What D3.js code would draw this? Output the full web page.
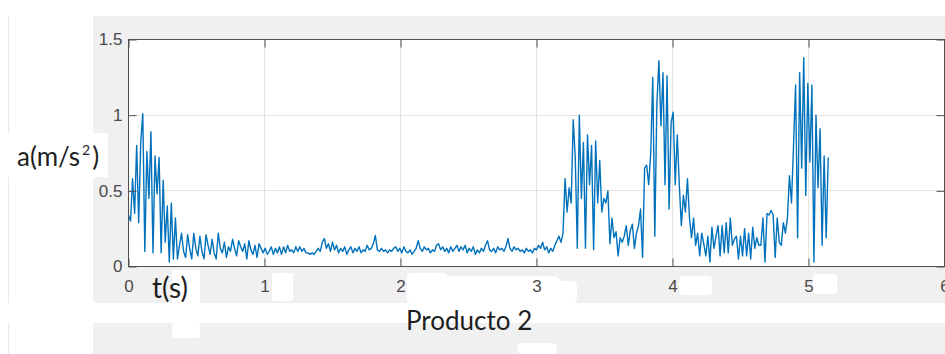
<!DOCTYPE html>
<html>
<head>
<meta charset="utf-8">
<script src="https://cdn.jsdelivr.net/npm/d3@7"></script>
<style>
  html, body { margin: 0; padding: 0; background: #ffffff; }
  svg { display: block; }
</style>
</head>
<body>
<svg id="chart" width="945" height="354"></svg>
<script>
// Acceleration record, sampled every 15 ms (m/s^2)
const sampleStep = 0.015;
const accel = [
  0.34,0.30,0.58,0.35,0.80,0.29,0.82,1.01,0.10,0.76,0.45,0.89,0.09,0.73,0.48,0.72,0.09,0.57,0.16,0.40,0.03,0.42,0.05,0.32,0.05,
  0.14,0.22,0.10,0.06,0.21,0.12,0.05,0.22,0.12,0.07,0.20,0.10,0.05,0.21,0.14,0.08,0.18,0.09,0.05,0.22,0.12,0.09,0.16,0.06,0.13,
  0.10,0.18,0.12,0.07,0.17,0.13,0.10,0.15,0.05,0.17,0.11,0.08,0.14,0.06,0.15,0.12,0.09,
  0.12,0.08,0.10,0.13,0.08,0.12,0.09,0.13,0.08,0.13,0.09,0.14,0.10,0.11,0.09,0.13,0.10,
  0.13,0.10,0.12,0.09,0.09,0.08,0.09,0.08,0.10,0.12,0.10,0.16,0.185,0.12,0.15,0.10,0.16,0.11,0.14,0.09,0.12,0.10,0.13,0.08,
  0.11,0.13,0.09,0.12,0.10,0.13,0.09,0.11,0.10,0.14,0.11,0.12,0.15,
  0.205,0.11,0.10,0.12,0.10,0.11,0.09,0.11,0.10,0.12,0.13,0.10,0.12,0.09,0.13,0.10,0.09,0.11,0.08,0.10,0.12,0.17,0.12,0.10,
  0.13,0.11,0.12,0.09,0.11,0.10,0.14,0.15,0.11,0.13,0.10,0.12,0.09,0.13,0.10,0.12,
  0.14,0.10,0.13,0.11,0.14,0.09,0.12,0.10,0.13,0.08,0.11,0.09,0.12,0.10,0.14,0.17,0.11,0.10,0.12,0.09,0.13,0.11,0.12,0.10,
  0.13,0.185,0.12,0.10,0.13,0.11,0.12,0.10,0.11,0.09,0.12,0.10,0.11,0.09,0.12,0.11,0.14,0.12,0.16,0.11,0.13,0.09,0.12,0.10,
  0.14,0.17,
  0.20,0.16,0.22,0.58,0.36,0.52,0.42,0.97,0.72,0.12,1.00,0.45,0.82,0.12,0.87,0.54,0.80,0.11,0.83,0.42,0.70,0.36,0.45,0.42,
  0.50,0.15,0.32,0.19,0.23,0.07,0.19,0.16,0.20,0.27,0.14,0.24,0.28,0.12,0.22,0.27,0.38,0.06,0.65,0.67,0.54,0.75,1.25,0.20,
  1.07,1.36,0.93,1.28,0.54,1.26,0.38,0.95,1.02,0.54,0.87,0.54,0.27,0.47,0.36,0.58,0.32,0.19,0.32,0.14,0.22,0.07,
  0.22,0.15,0.07,0.20,0.03,0.26,0.12,0.20,0.27,0.07,0.27,0.09,0.29,0.09,0.32,0.14,0.18,0.20,0.05,0.20,0.07,0.25,0.07,0.22,
  0.05,0.26,0.12,0.19,0.14,0.14,0.32,0.03,0.35,0.34,0.37,0.34,0.06,0.32,0.16,0.14,0.29,0.22,0.32,0.60,0.42,0.80,1.20,0.19,
  1.28,0.65,1.38,0.47,1.21,0.69,1.20,0.03,1.00,0.52,0.91,0.14,0.73,0.19,0.72
];

const xTicks = [0, 1, 2, 3, 4, 5, 6];
const yTicks = [0, 0.5, 1, 1.5];
const xDomain = [0, 6];
const yDomain = [0, 1.5];

const yTitle = "a(m/s";
const yTitleSup = "2";
const yTitleEnd = ")";
const xTitle = "t(s)";
const caption = "Producto 2";

const svg = d3.select("#chart");
const W = 945, H = 354;
const plot = { left: 128.5, right: 944.5, top: 39.5, bottom: 266.5 };

// figure window background
svg.append("rect").attr("x", 93).attr("y", 16).attr("width", W - 93).attr("height", 287).attr("fill", "#f0f0f0");
svg.append("rect").attr("x", 93).attr("y", 323).attr("width", W - 93).attr("height", H - 323).attr("fill", "#f0f0f0");
svg.append("line").attr("x1", 8.5).attr("x2", 8.5).attr("y1", 16).attr("y2", 303).attr("stroke", "#e8e8e8");
svg.append("line").attr("x1", 8.5).attr("x2", 8.5).attr("y1", 323).attr("y2", H).attr("stroke", "#e8e8e8");

// white cut-outs behind the pasted labels
const patches = [
  [0, 133, 108, 44, 0],
  [172, 270, 28, 33, 0], [172, 323, 28, 15, 3],
  [272, 273, 21, 28, 3],
  [407, 273, 40, 30, 4], [430, 276, 130, 27, 6], [545, 281, 32, 22, 5],
  [517, 343, 40, 11, 5],
  [679, 276, 33, 19, 4],
  [813, 274, 24, 20, 4]
];
svg.append("g").selectAll("rect").data(patches).join("rect")
  .attr("x", d => d[0]).attr("y", d => d[1]).attr("width", d => d[2]).attr("height", d => d[3])
  .attr("rx", d => d[4]).attr("fill", "#ffffff");

const x = d3.scaleLinear().domain(xDomain).range([plot.left, plot.right]);
const y = d3.scaleLinear().domain(yDomain).range([plot.bottom, plot.top]);

// axes area
svg.append("rect").attr("x", plot.left).attr("y", plot.top)
  .attr("width", plot.right - plot.left).attr("height", plot.bottom - plot.top).attr("fill", "#ffffff");

// grid
const grid = svg.append("g").attr("stroke", "#e3e3e3").attr("stroke-width", 1);
grid.selectAll(".gx").data(xTicks).join("line")
  .attr("x1", d => Math.round(x(d) - 0.5) + 0.5).attr("x2", d => Math.round(x(d) - 0.5) + 0.5)
  .attr("y1", plot.top).attr("y2", plot.bottom);
grid.selectAll(".gy").data(yTicks).join("line")
  .attr("y1", d => Math.round(y(d) - 0.5) + 0.5).attr("y2", d => Math.round(y(d) - 0.5) + 0.5)
  .attr("x1", plot.left).attr("x2", plot.right);

// signal
const line = d3.line().x((d, i) => x(i * sampleStep)).y(d => y(d));
svg.append("path").datum(accel)
  .attr("d", line)
  .attr("fill", "none")
  .attr("stroke", "#0072bd")
  .attr("stroke-width", 1.4)
  .attr("stroke-linejoin", "round");

// axes with inward ticks
const axisColor = "#4f4f4f";
function styleAxis(g) {
  g.select(".domain").remove();
  g.selectAll(".tick line").attr("stroke", axisColor);
  g.selectAll(".tick text")
    .attr("fill", "#4a4a4a")
    .attr("font-family", "'Liberation Sans', Arial, sans-serif")
    .attr("font-size", 17);
}
svg.append("g").attr("transform", `translate(0,${plot.bottom})`)
  .call(d3.axisBottom(x).tickValues(xTicks).tickSize(-8).tickPadding(13).tickFormat(d => String(d)))
  .call(styleAxis);
svg.append("g").attr("transform", `translate(${plot.left},0)`)
  .call(d3.axisLeft(y).tickValues(yTicks).tickSize(-8).tickPadding(6).tickFormat(d => String(d)))
  .call(styleAxis);
svg.append("g").attr("transform", `translate(0,${plot.top})`)
  .call(d3.axisTop(x).tickValues(xTicks).tickSize(-8).tickFormat(""))
  .call(styleAxis);
svg.append("g").attr("transform", `translate(${plot.right},0)`)
  .call(d3.axisRight(y).tickValues(yTicks).tickSize(-8).tickFormat(""))
  .call(styleAxis);

// box
svg.append("rect").attr("x", plot.left).attr("y", plot.top)
  .attr("width", plot.right - plot.left).attr("height", plot.bottom - plot.top)
  .attr("fill", "none").attr("stroke", axisColor).attr("stroke-width", 1);

// titles
const titleFont = "Lato, 'Open Sans', sans-serif";
const yt = svg.append("text").attr("x", 17).attr("y", 166)
  .attr("font-family", titleFont).attr("font-size", 26).attr("fill", "#1e1e1e");
yt.append("tspan").text(yTitle);
yt.append("tspan").attr("dx", 2).attr("dy", -11).attr("font-size", 14).text(yTitleSup);
yt.append("tspan").attr("dx", 2).attr("dy", 11).text(yTitleEnd);

svg.append("text").attr("x", 152).attr("y", 298)
  .attr("font-family", titleFont).attr("font-size", 28).attr("fill", "#1e1e1e").text(xTitle);

svg.append("text").attr("x", 406).attr("y", 330)
  .attr("font-family", titleFont).attr("font-size", 26).attr("fill", "#1e1e1e").text(caption);
</script>
</body>
</html>
